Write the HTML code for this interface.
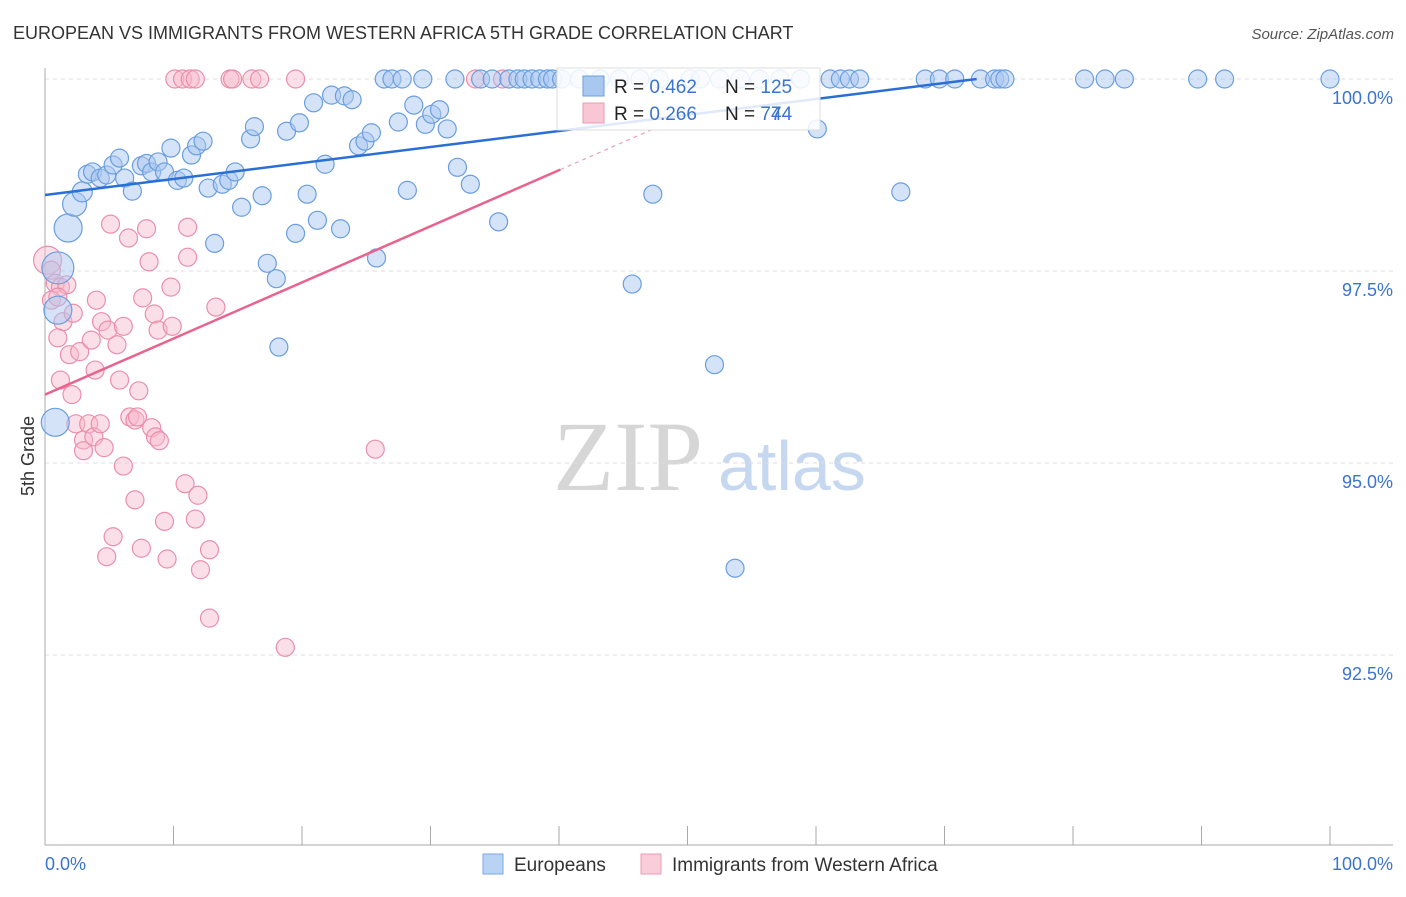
<!DOCTYPE html>
<html><head><meta charset="utf-8"><style>
body{margin:0;background:#fff;font-family:"Liberation Sans",sans-serif}
svg text{font-family:"Liberation Sans",sans-serif}
</style></head><body>
<svg id="chart" width="1406" height="892" viewBox="0 0 1406 892" xmlns="http://www.w3.org/2000/svg">
<text x="13" y="39" font-size="18" fill="#333">EUROPEAN VS IMMIGRANTS FROM WESTERN AFRICA 5TH GRADE CORRELATION CHART</text>
<text x="1394" y="39" font-size="15" fill="#555" text-anchor="end" font-style="italic">Source: ZipAtlas.com</text>
<g>
<text x="553" y="490" font-size="100" fill="#d6d6d6" font-family="Liberation Serif" style="font-family:'Liberation Serif',serif">ZIP</text>
<text x="718" y="490" font-size="70" fill="#c5d8ef">atlas</text>
</g>
<g id="grid"></g>
<g id="axes"></g>
<text transform="translate(34,456) rotate(-90)" font-size="18" fill="#333" text-anchor="middle">5th Grade</text>
<g id="pts"></g>
<g id="lines"></g>
<g>
<rect x="557" y="68" width="263" height="62" fill="#fff" fill-opacity="0.85" stroke="#ddd"/>
<rect x="583" y="76" width="21" height="20" fill="#a9c8f0" stroke="#6a9ee0"/>
<rect x="583" y="103" width="21" height="20" fill="#f8c6d4" stroke="#ec9ab3"/>
<text x="614" y="93" font-size="19" fill="#222">R = <tspan fill="#3a74d0">0.462</tspan></text>
<text x="725" y="93" font-size="19" fill="#222">N = <tspan fill="#3a74d0">125</tspan></text>
<text x="614" y="120" font-size="19" fill="#222">R = <tspan fill="#3a74d0">0.266</tspan></text>
<text x="725" y="120" font-size="19" fill="#222">N = <tspan fill="#3a74d0">  74</tspan></text>
<text x="771" y="120" font-size="19" fill="#3a74d0">74</text>
</g>
<g>
<rect x="483" y="854" width="20" height="20" fill="#b8d3f4" stroke="#7aa8e2"/>
<text x="514" y="871" font-size="19" fill="#333">Europeans</text>
<rect x="641" y="854" width="20" height="20" fill="#f9cdd9" stroke="#ec9ab3"/>
<text x="672" y="871" font-size="19" fill="#333">Immigrants from Western Africa</text>
</g>
</svg>
<script>
const blueX=[26.4,27.0,27.8,29.4,31.9,33.9,34.8,36.1,36.8,37.3,37.9,38.5,39.1,39.5,40.2,41.6,43.2,44.7,46.3,47.8,50.2,51.0,52.5,54.1,55.6,57.2,58.8,61.1,61.9,62.6,63.4,68.5,69.6,70.8,72.8,73.9,74.3,74.7,80.9,82.5,84.0,89.7,91.8,100,
0.8,1.0,1.0,1.8,2.3,2.9,3.3,3.7,4.3,4.8,5.3,5.8,6.2,6.8,7.5,7.9,8.3,8.8,9.3,9.8,10.3,10.8,11.4,11.8,12.3,12.7,13.2,13.8,14.3,14.8,15.3,16.0,16.3,16.9,17.3,18.0,18.2,18.8,19.5,19.8,20.4,20.9,21.2,21.8,22.3,23.0,23.3,23.9,24.4,24.9,25.4,25.8,27.5,28.2,28.7,29.6,30.1,30.7,31.3,32.1,33.1,35.3,45.7,47.3,52.1,53.7,60.1,66.6];
const blueY=[100,100,100,100,100,100,100,100,100,100,100,100,100,100,100,100,100,100,100,100,100,100,100,100,100,100,100,100,100,100,100,100,100,100,100,100,100,100,100,100,100,100,100,100,
95.53,97.54,96.99,98.06,98.37,98.53,98.76,98.79,98.71,98.75,98.88,98.97,98.71,98.54,98.87,98.90,98.79,98.92,98.79,99.10,98.68,98.71,99.01,99.13,99.19,98.58,97.86,98.63,98.68,98.79,98.33,99.22,99.38,98.48,97.60,97.40,96.51,99.32,97.99,99.43,98.50,99.69,98.16,98.89,99.79,98.05,99.78,99.73,99.13,99.19,99.30,97.67,99.44,98.55,99.66,99.41,99.54,99.60,99.35,98.85,98.63,98.14,97.33,98.50,96.28,93.63,99.35,98.53];
const blueR=[0,0,0,0,0,0,0,0,0,0,0,0,0,0,0,0,0,0,0,0,0,0,0,0,0,0,0,0,0,0,0,0,0,0,0,0,0,0,0,0,0,0,0,0,14,16,14,14,12,10];
const pinkX=[10.1,10.7,11.3,11.7,14.4,14.6,16.1,16.7,19.5,33.5,35.6,
0.2,0.5,0.8,1.2,1.7,0.5,1.0,1.4,2.2,1.0,1.9,2.7,1.2,2.1,4.0,5.1,4.4,4.9,5.6,6.1,6.5,7.9,8.1,7.6,8.5,8.8,9.9,9.8,11.1,11.1,13.3,3.6,3.9,5.8,7.3,2.4,3.0,3.0,3.4,3.8,4.3,4.6,6.6,7.0,7.2,8.3,8.6,8.9,25.7,6.1,10.9,11.9,7.0,9.3,11.7,5.3,7.5,4.8,9.5,12.8,12.1,12.8,18.7];
const pinkY=[100,100,100,100,100,100,100,100,100,100,100,
97.64,97.51,97.34,97.29,97.32,97.12,97.16,96.84,96.95,96.63,96.41,96.45,96.08,95.89,97.12,98.11,96.84,96.73,96.54,96.78,97.93,98.05,97.62,97.15,96.94,96.73,96.78,97.29,98.07,97.68,97.03,96.60,96.21,96.08,95.94,95.51,95.30,95.16,95.51,95.34,95.51,95.20,95.60,95.56,95.60,95.46,95.34,95.29,95.18,94.96,94.73,94.58,94.52,94.24,94.27,94.04,93.89,93.78,93.75,93.87,93.61,92.98,92.60];
const pinkR=[0,0,0,0,0,0,0,0,0,0,0,14];
const blueTrend=[0,98.49,72.5,100];
const pinkTrend=[0,95.89,40.1,98.82,47.5];
const yTicks=[100,97.5,95,92.5];
const yTickLabels=["100.0%","97.5%","95.0%","92.5%"];
const xTicks=[0,10,20,30,40,50,60,70,80,90,100];

const X=v=>45+v*12.85, Y=v=>79+(100-v)*76.8;
const NS="http://www.w3.org/2000/svg";
function mk(t,a,p){const e=document.createElementNS(NS,t);for(const k in a)e.setAttribute(k,a[k]);p.appendChild(e);return e;}
const grid=document.getElementById('grid'),axes=document.getElementById('axes');
yTicks.forEach((t,i)=>{
 const l=mk('line',{x1:45,x2:1393,y1:Y(t),y2:Y(t),stroke:'#ddd','stroke-dasharray':'4,4'},grid);
 
 
 const tx=mk('text',{x:1393,y:Y(t)+25,'font-size':18,fill:'#3a74d0','text-anchor':'end'},axes);
 tx.textContent=yTickLabels[i];
 
 
});
mk('line',{x1:45,x2:45,y1:68,y2:845,stroke:'#aaa'},axes);
mk('line',{x1:45,x2:1393,y1:845,y2:845,stroke:'#aaa'},axes);
xTicks.forEach(t=>{
 const l=mk('line',{x1:X(t),x2:X(t),y1:826,y2:845,stroke:'#aaa'},axes);
 
 
});
const xl0=mk('text',{x:45,y:870,'font-size':18,fill:'#3a74d0'},axes);xl0.textContent='0.0%';


const xl1=mk('text',{x:1393,y:870,'font-size':18,fill:'#3a74d0','text-anchor':'end'},axes);xl1.textContent='100.0%';


const pts=document.getElementById('pts');


pinkX.forEach((x,i)=>{
 const c=mk('circle',{cx:X(x),cy:Y(pinkY[i]),r:pinkR[i]||9,fill:'#f7b9cb','fill-opacity':0.45,stroke:'#ea8fab','stroke-width':1.2},pts);
 
 
});
blueX.forEach((x,i)=>{
 const c=mk('circle',{cx:X(x),cy:Y(blueY[i]),r:blueR[i]||9,fill:'#a9c8f0','fill-opacity':0.5,stroke:'#6a9ee0','stroke-width':1.2},pts);
 
 
});
const ln=document.getElementById('lines');
const b=mk('line',{x1:X(blueTrend[0]),y1:Y(blueTrend[1]),x2:X(blueTrend[2]),y2:Y(blueTrend[3]),stroke:'#2a6fd6','stroke-width':2.5},ln);


const p=mk('line',{x1:X(pinkTrend[0]),y1:Y(pinkTrend[1]),x2:X(pinkTrend[2]),y2:Y(pinkTrend[3]),stroke:'#e8638e','stroke-width':2.5},ln);


const sl=(pinkTrend[3]-pinkTrend[1])/pinkTrend[2];
const pd=mk('line',{x1:X(pinkTrend[2]),y1:Y(pinkTrend[3]),x2:X(pinkTrend[4]),y2:Y(pinkTrend[1]+sl*pinkTrend[4]),stroke:'#e8a0b8','stroke-width':1.2,'stroke-dasharray':'4,4'},ln);


</script>
</body></html>
